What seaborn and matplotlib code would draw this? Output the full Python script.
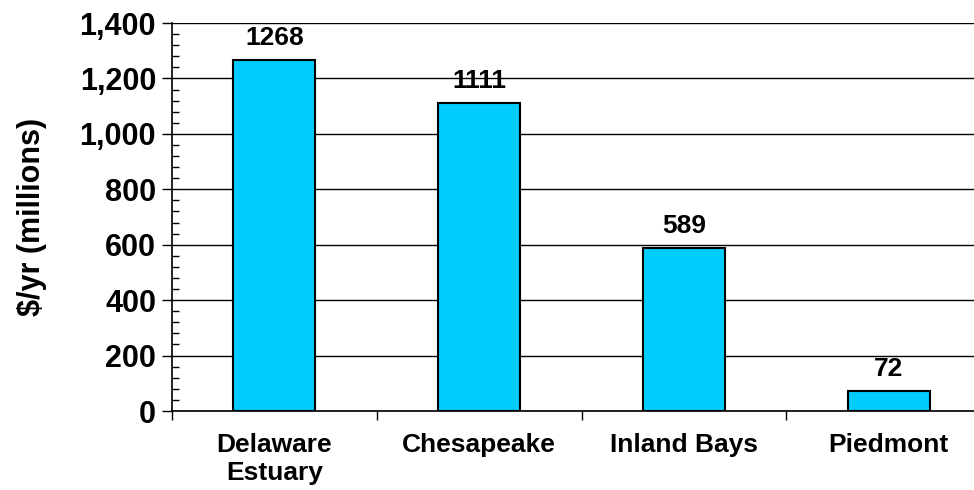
import numpy as np
import pandas as pd
import seaborn as sns
import matplotlib.pyplot as plt
from matplotlib.ticker import MultipleLocator, StrMethodFormatter

regions = ['Delaware\nEstuary', 'Chesapeake', 'Inland Bays', 'Piedmont']
values = [1268, 1111, 589, 72]

data = pd.DataFrame({'region': regions, 'value': values})

sns.set_style('white')
plt.rcParams['font.family'] = ['Liberation Sans', 'DejaVu Sans']
plt.rcParams['font.weight'] = 'bold'
plt.rcParams['text.color'] = 'black'
plt.rcParams['axes.labelcolor'] = 'black'
plt.rcParams['xtick.color'] = 'black'
plt.rcParams['ytick.color'] = 'black'
plt.rcParams['xtick.bottom'] = True
plt.rcParams['ytick.left'] = True

fig = plt.figure(figsize=(9.74, 4.9), dpi=100)
ax = fig.add_axes([172 / 974, 79 / 490, 819 / 974, 388 / 490])

sns.barplot(x='region', y='value', data=data, color='#00CCFF', width=0.4,
            edgecolor='black', linewidth=1.5, saturation=1, ax=ax, zorder=3)

# etikete iznad stubica
for i, v in enumerate(values):
    ax.text(i, v + 35, str(v), ha='center', va='bottom', fontsize=19, fontweight='bold')

ax.set_ylim(0, 1400)
ax.set_xlim(-0.5, 3.5)
ax.yaxis.set_major_locator(MultipleLocator(200))
ax.yaxis.set_minor_locator(MultipleLocator(40))
ax.yaxis.set_major_formatter(StrMethodFormatter('{x:,.0f}'))
ax.grid(axis='y', which='major', color='black', linewidth=1, zorder=0)
ax.set_axisbelow(True)

ax.set_xticks(np.arange(-0.5, 4, 1), minor=True)
ax.set_xticks(range(len(regions)))
ax.set_xticklabels(regions, fontsize=19, fontweight='bold', linespacing=1.2)
ax.tick_params(axis='x', which='major', length=0, pad=16)
ax.tick_params(axis='x', which='minor', length=6.5, width=1, direction='out')
ax.tick_params(axis='y', which='major', length=7, width=1, direction='out', labelsize=22, pad=4.5)
ax.tick_params(axis='y', which='minor', length=5, width=1, direction='in')

for s in ['top', 'right']:
    ax.spines[s].set_visible(False)
for s in ['left', 'bottom']:
    ax.spines[s].set_color('black')
    ax.spines[s].set_linewidth(1.2)

ax.set_xlabel('')
ax.set_ylabel('$/yr (millions)', fontsize=22, fontweight='bold')
ax.yaxis.set_label_coords(-0.153, 0.5)

fig.savefig('out.png', dpi=100)
